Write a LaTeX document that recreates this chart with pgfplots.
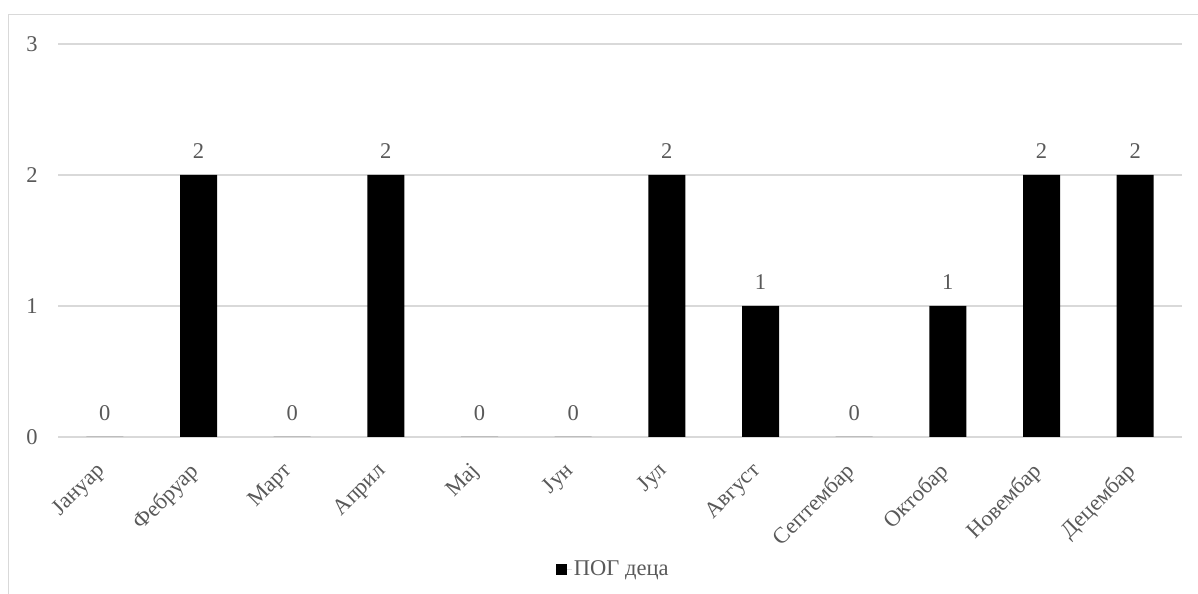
\documentclass[border=0pt]{standalone}
\usepackage{fontspec}
\setmainfont{Liberation Serif}
\usepackage{pgfplots}
\pgfplotsset{compat=1.18}
\definecolor{txt}{HTML}{595959}
\definecolor{grd}{HTML}{D9D9D9}
\begin{document}
\begin{tikzpicture}
\useasboundingbox (0,0) rectangle (1198bp,594bp);
\fill[white] (0,0) rectangle (1198bp,594bp);
\draw[grd, line width=1.3bp] (8.5bp,-2bp) -- (8.5bp,579.5bp) -- (1200bp,579.5bp);
\begin{axis}[
  at={(58bp,157bp)}, anchor=south west,
  scale only axis, width=1124bp, height=393bp,
  xmin=-0.5, xmax=11.5, ymin=0, ymax=3,
  axis line style={draw=none},
  tick style={draw=none},
  ybar, bar width=37bp,
  ytick={0,1,2,3},
  ymajorgrids, grid style={grd, line width=1.3bp},
  xtick={0,...,11},
  xticklabels={Јануар,Фебруар,Март,Април,Мај,Јун,Јул,Август,Септембар,Октобар,Новембар,Децембар},
  major tick length=0pt,
  tick label style={font=\fontsize{22.5bp}{24bp}\selectfont, text=txt},
  /pgf/number format/assume math mode=true,
  yticklabel style={anchor=center, xshift=-26bp},
  xticklabel style={xshift=-10bp, yshift=-21bp, rotate=45, anchor=north east, inner sep=2bp},
  nodes near coords,
  nodes near coords style={font=\fontsize{22.5bp}{24bp}\selectfont, text=txt, yshift=13bp},
  legend style={at={(0.494,-0.336)}, anchor=center, draw=none, fill=none,
    font=\fontsize{22.5bp}{24bp}\selectfont, text=txt, inner sep=0pt},
  legend image code/.code={\fill[black] (0bp,-5.5bp) rectangle (11bp,5.5bp); \path (0bp,0bp) -- (16bp,0bp);},
]
\addplot[fill=black, draw=none] coordinates {
(0,0) (1,2) (2,0) (3,2) (4,0) (5,0) (6,2) (7,1) (8,0) (9,1) (10,2) (11,2)};
\addlegendentry{ПОГ деца}
\end{axis}
\end{tikzpicture}
\end{document}
